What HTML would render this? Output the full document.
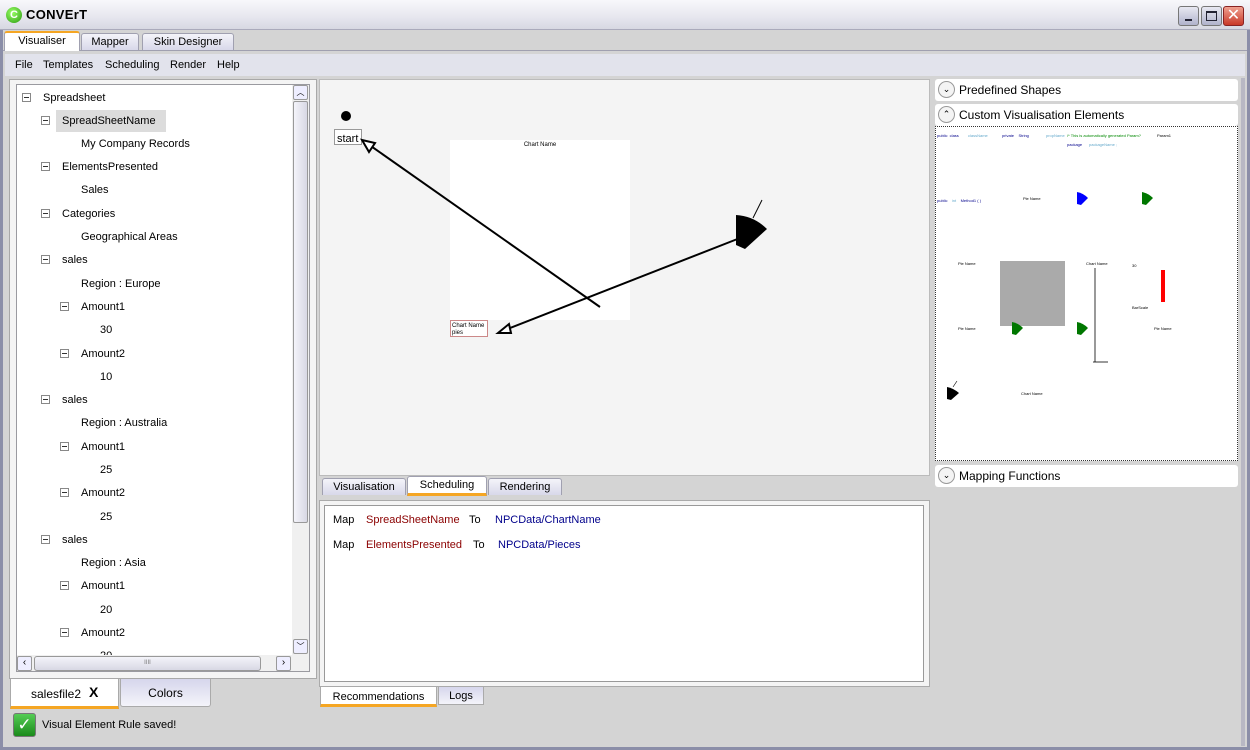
<!DOCTYPE html>
<html><head><meta charset="utf-8"><style>
*{box-sizing:border-box;margin:0;padding:0}
body{width:1250px;height:750px;overflow:hidden;background:#d4d4d4;font-family:"Liberation Sans",sans-serif;font-size:11px;color:#000;position:relative}
.a{position:absolute}
.t{position:absolute;white-space:nowrap;line-height:13px}
.bx{position:absolute;width:9px;height:9px;border:1px solid #888;background:#fff}
.bx:after{content:"";position:absolute;left:1px;top:3px;width:5px;height:1px;background:#333}
.tab{position:absolute;border:1px solid #a0a0b0;border-bottom:none;border-radius:3px 3px 0 0;background:linear-gradient(#f4f4fa,#d8d8ea);text-align:center;line-height:17px;font-size:11px}
.sel{background:#fff;border-top:2px solid #f5a623}
.selb{background:#fff;border-bottom:3px solid #f5a623;border-top:1px solid #a0a0b0}
.hdr{position:absolute;left:935px;width:303px;height:22px;background:#fff;border-radius:3px;font-size:12px;line-height:22px;padding-left:24px}
.chev{position:absolute;left:3px;top:2px;width:17px;height:17px;border:1px solid #999;border-radius:50%;background:#f4f4f4;font-size:9px;line-height:15px;text-align:center;padding:0}
.tiny{position:absolute;font-size:4px;white-space:nowrap}
</style></head><body>
<div class="a" style="left:0;top:0;width:1250px;height:750px;border:3px solid #8b8ea8;border-top:none"></div>
<div class="a" style="left:0;top:0;width:1250px;height:30px;background:linear-gradient(#f8f8fb,#e6e6ee 60%,#d7d8e2);border-bottom:1px solid #aab"></div>
<div class="a" style="left:6px;top:7px;width:16px;height:16px;border-radius:50%;background:radial-gradient(circle at 40% 35%,#9f6,#2a9a10);color:#fff;font-weight:bold;font-size:11px;line-height:16px;text-align:center">C</div>
<div class="t" style="left:26px;top:8px;font-size:13px;font-weight:bold;letter-spacing:0.3px">CONVErT</div>
<div class="a" style="left:1178px;top:6px;width:21px;height:20px;border:1px solid #777;border-radius:3px;background:linear-gradient(#e8e8f2,#b0b2cc)"><div class="a" style="left:6px;top:12px;width:7px;height:2px;background:#223"></div></div>
<div class="a" style="left:1201px;top:6px;width:21px;height:20px;border:1px solid #777;border-radius:3px;background:linear-gradient(#e8e8f2,#b0b2cc)"><div class="a" style="left:4px;top:4px;width:11px;height:10px;border:1px solid #223;border-top-width:2px"></div></div>
<div class="a" style="left:1223px;top:6px;width:21px;height:20px;border:1px solid #822;border-radius:3px;background:linear-gradient(#f0a090,#c83828);color:#fff;font-size:16px;line-height:18px;text-align:center">✕</div>

<div class="a" style="left:3px;top:50px;width:1244px;height:1px;background:#a0a0b0"></div>
<div class="tab sel" style="left:4px;top:31px;width:76px;height:20px">Visualiser</div>
<div class="tab" style="left:81px;top:33px;width:58px;height:17px">Mapper</div>
<div class="tab" style="left:142px;top:33px;width:92px;height:17px">Skin Designer</div>

<div class="a" style="left:5px;top:54px;width:1240px;height:22px;background:#e2e3ec"></div>
<div class="t" style="left:15px;top:59px">File</div>
<div class="t" style="left:43px;top:59px">Templates</div>
<div class="t" style="left:105px;top:59px">Scheduling</div>
<div class="t" style="left:170px;top:59px">Render</div>
<div class="t" style="left:217px;top:59px">Help</div>

<div class="a" style="left:9px;top:79px;width:308px;height:600px;background:#f4f4f4;border:1px solid #a8a8a8"></div>
<div class="a" style="left:16px;top:84px;width:294px;height:588px;background:#fff;border:1px solid #9a9aa0"></div>
<div class="a" style="left:56px;top:110px;width:110px;height:22px;background:#dcdcdc"></div>
<div class="a" style="left:292px;top:85px;width:17px;height:570px;background:#f0f0f0"></div>
<div class="a" style="left:293px;top:85px;width:15px;height:15px;border:1px solid #999;border-radius:2px;background:#eef;font-size:8px;text-align:center;line-height:13px">︿</div>
<div class="a" style="left:293px;top:101px;width:15px;height:422px;border:1px solid #999;border-radius:2px;background:linear-gradient(90deg,#f4f4fa,#d8d8e4)"></div>
<div class="a" style="left:293px;top:639px;width:15px;height:15px;border:1px solid #999;border-radius:2px;background:#eef;font-size:8px;text-align:center;line-height:13px">﹀</div>
<div class="a" style="left:17px;top:655px;width:292px;height:16px;background:#f0f0f0"></div>
<div class="a" style="left:17px;top:656px;width:15px;height:15px;border:1px solid #999;border-radius:2px;background:#eef;font-size:10px;line-height:12px;text-align:center">‹</div>
<div class="a" style="left:34px;top:656px;width:227px;height:15px;border:1px solid #999;border-radius:3px;background:linear-gradient(#f4f4fa,#d8d8e4);font-size:6px;text-align:center;line-height:13px;color:#777">IIII</div>
<div class="a" style="left:276px;top:656px;width:15px;height:15px;border:1px solid #999;border-radius:2px;background:#eef;font-size:10px;line-height:12px;text-align:center">›</div>

<div class="bx" style="left:22px;top:93px"></div><div class="t" style="left:43px;top:92px">Spreadsheet</div>
<div class="bx" style="left:41px;top:116px"></div><div class="t" style="left:62px;top:115px">SpreadSheetName</div>
<div class="t" style="left:81px;top:138px">My Company Records</div>
<div class="bx" style="left:41px;top:162px"></div><div class="t" style="left:62px;top:161px">ElementsPresented</div>
<div class="t" style="left:81px;top:184px">Sales</div>
<div class="bx" style="left:41px;top:209px"></div><div class="t" style="left:62px;top:208px">Categories</div>
<div class="t" style="left:81px;top:231px">Geographical Areas</div>
<div class="bx" style="left:41px;top:255px"></div><div class="t" style="left:62px;top:254px">sales</div>
<div class="t" style="left:81px;top:278px">Region : Europe</div>
<div class="bx" style="left:60px;top:302px"></div><div class="t" style="left:81px;top:301px">Amount1</div>
<div class="t" style="left:100px;top:324px">30</div>
<div class="bx" style="left:60px;top:349px"></div><div class="t" style="left:81px;top:348px">Amount2</div>
<div class="t" style="left:100px;top:371px">10</div>
<div class="bx" style="left:41px;top:395px"></div><div class="t" style="left:62px;top:394px">sales</div>
<div class="t" style="left:81px;top:417px">Region : Australia</div>
<div class="bx" style="left:60px;top:442px"></div><div class="t" style="left:81px;top:441px">Amount1</div>
<div class="t" style="left:100px;top:464px">25</div>
<div class="bx" style="left:60px;top:488px"></div><div class="t" style="left:81px;top:487px">Amount2</div>
<div class="t" style="left:100px;top:511px">25</div>
<div class="bx" style="left:41px;top:535px"></div><div class="t" style="left:62px;top:534px">sales</div>
<div class="t" style="left:81px;top:557px">Region : Asia</div>
<div class="bx" style="left:60px;top:581px"></div><div class="t" style="left:81px;top:580px">Amount1</div>
<div class="t" style="left:100px;top:604px">20</div>
<div class="bx" style="left:60px;top:628px"></div><div class="t" style="left:81px;top:627px">Amount2</div>
<div class="a" style="left:95px;top:649px;width:30px;height:6px;overflow:hidden"><div class="t" style="left:5px;top:1px">20</div></div>

<div class="a" style="left:10px;top:679px;width:109px;height:30px;background:#fff;border:1px solid #aaa;border-top:none;border-bottom:3px solid #f5a623"></div>
<div class="t" style="left:31px;top:688px;font-size:12px">salesfile2</div>
<div class="t" style="left:89px;top:686px;font-size:14px;font-weight:bold">X</div>
<div class="a" style="left:120px;top:679px;width:91px;height:28px;background:linear-gradient(#d6d6ec,#f4f4fa);border:1px solid #aaa;border-top:none;border-radius:0 0 3px 3px;text-align:center;line-height:28px;font-size:12px">Colors</div>
<div class="a" style="left:13px;top:713px;width:23px;height:24px;border:1px solid #777;border-radius:3px;background:linear-gradient(#5c5,#1a8a1a);color:#fff;font-size:17px;line-height:22px;text-align:center">✓</div>
<div class="t" style="left:42px;top:719px">Visual Element Rule saved!</div>

<div class="a" style="left:319px;top:79px;width:611px;height:397px;background:#f4f4f4;border:1px solid #bbb"></div>
<svg class="a" style="left:0;top:0" width="1250" height="750">
<rect x="450" y="140" width="180" height="180" fill="#fff"/>
<text x="540" y="146" font-size="6" text-anchor="middle" font-family="Liberation Sans">Chart Name</text>
<circle cx="346" cy="116" r="5" fill="#000"/>
<rect x="334.5" y="129.5" width="27" height="15" fill="#fff" stroke="#999"/>
<text x="337" y="142" font-size="11" font-family="Liberation Sans">start</text>
<rect x="450.5" y="320.5" width="37" height="16" fill="#fff" stroke="#c88"/>
<text x="452" y="327" font-size="6" font-family="Liberation Sans">Chart Name</text>
<text x="452" y="334" font-size="6" font-family="Liberation Sans">pies</text>
<line x1="600" y1="307" x2="368" y2="144" stroke="#000" stroke-width="2"/>
<polygon points="362,140 375,143 369,152" fill="#fff" stroke="#000" stroke-width="2"/>
<line x1="740" y1="238" x2="505" y2="330" stroke="#000" stroke-width="2"/>
<polygon points="498,333 509,324 511,333" fill="#fff" stroke="#000" stroke-width="2"/>
<path d="M736,215 Q754,216 767,229 L745,249 L736,245 Z" fill="#000"/>
<line x1="753" y1="218" x2="762" y2="200" stroke="#000"/>
</svg>

<div class="tab" style="left:322px;top:478px;width:84px;height:17px">Visualisation</div>
<div class="tab selb" style="left:407px;top:476px;width:80px;height:20px">Scheduling</div>
<div class="tab" style="left:488px;top:478px;width:74px;height:17px">Rendering</div>

<div class="a" style="left:319px;top:500px;width:611px;height:187px;background:#f4f4f4;border:1px solid #aaa"></div>
<div class="a" style="left:324px;top:505px;width:600px;height:177px;background:#fff;border:1px solid #999"></div>
<div class="t" style="left:333px;top:514px">Map</div>
<div class="t" style="left:366px;top:514px;color:#8b0000">SpreadSheetName</div>
<div class="t" style="left:469px;top:514px">To</div>
<div class="t" style="left:495px;top:514px;color:#00008b">NPCData/ChartName</div>
<div class="t" style="left:333px;top:539px">Map</div>
<div class="t" style="left:366px;top:539px;color:#8b0000">ElementsPresented</div>
<div class="t" style="left:473px;top:539px">To</div>
<div class="t" style="left:498px;top:539px;color:#00008b">NPCData/Pieces</div>
<div class="a" style="left:320px;top:687px;width:117px;height:20px;background:#fff;border-bottom:3px solid #f5a623;border-left:1px solid #aaa;border-right:1px solid #aaa;text-align:center;line-height:20px">Recommendations</div>
<div class="a" style="left:438px;top:687px;width:46px;height:18px;background:linear-gradient(#d6d6ec,#f4f4fa);border:1px solid #aaa;border-top:none;text-align:center;line-height:18px">Logs</div>

<div class="a" style="left:1241px;top:78px;width:4px;height:668px;background:#b8b8c4"></div>
<div class="hdr" style="top:79px"><div class="chev">⌄</div>Predefined Shapes</div>
<div class="hdr" style="top:104px"><div class="chev">⌃</div>Custom Visualisation Elements</div>
<div class="a" style="left:935px;top:126px;width:303px;height:335px;background:#fff;border:1px dotted #333"></div>
<div class="tiny" style="left:937px;top:133px;color:#00008b">public &nbsp;class</div>
<div class="tiny" style="left:968px;top:133px;color:#6ac">className</div>
<div class="tiny" style="left:1002px;top:133px;color:#00008b">private &nbsp;&nbsp;&nbsp;String</div>
<div class="tiny" style="left:1046px;top:133px;color:#6ac">propName</div>
<div class="tiny" style="left:1067px;top:133px;color:#080">/* This is automatically generated Param?</div>
<div class="tiny" style="left:1157px;top:133px">Param1</div>
<div class="tiny" style="left:1067px;top:142px;color:#00008b">package</div>
<div class="tiny" style="left:1089px;top:142px;color:#6ac">packageName ;</div>
<div class="tiny" style="left:937px;top:198px;color:#00008b">public &nbsp;&nbsp;&nbsp;<span style="color:#6ac">int</span> &nbsp;&nbsp;&nbsp;Method1 ( )</div>
<div class="tiny" style="left:1023px;top:196px">Pie Name</div>
<div class="tiny" style="left:958px;top:261px">Pie Name</div>
<div class="tiny" style="left:1086px;top:261px">Chart Name</div>
<div class="tiny" style="left:1132px;top:263px">30</div>
<div class="tiny" style="left:1132px;top:305px">BarScale</div>
<div class="tiny" style="left:958px;top:326px">Pie Name</div>
<div class="tiny" style="left:1154px;top:326px">Pie Name</div>
<div class="tiny" style="left:1021px;top:391px">Chart Name</div>
<svg class="a" style="left:0;top:0" width="1250" height="750">
<rect x="1000" y="261" width="65" height="65" fill="#aaa"/>
<path d="M1077,192 Q1083,193 1088,198 L1081,205 L1077,204 Z" fill="#00f"/>
<path d="M1142,192 Q1148,193 1153,198 L1146,205 L1142,204 Z" fill="#070"/>
<path d="M1012,322 Q1018,323 1023,328 L1016,335 L1012,334 Z" fill="#070"/>
<path d="M1077,322 Q1083,323 1088,328 L1081,335 L1077,334 Z" fill="#070"/>
<path d="M947,387 Q953,388 959,393 L951,400 L947,399 Z" fill="#000"/>
<line x1="953" y1="387" x2="957" y2="381" stroke="#000" stroke-width="0.6"/>
<line x1="1095" y1="268" x2="1095" y2="362" stroke="#000" stroke-width="0.8"/>
<line x1="1093" y1="362" x2="1108" y2="362" stroke="#000" stroke-width="0.8"/>
<rect x="1161" y="270" width="4" height="32" fill="#f00"/>
</svg>
<div class="hdr" style="top:465px"><div class="chev">⌄</div>Mapping Functions</div>
</body></html>
